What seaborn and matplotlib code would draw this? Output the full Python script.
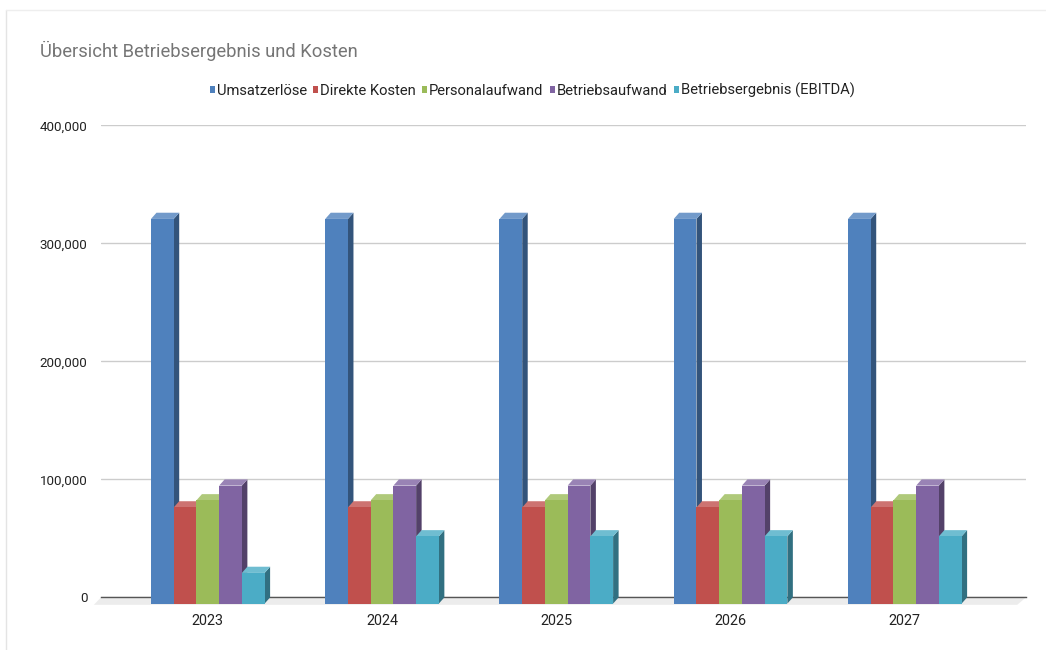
import matplotlib
matplotlib.use("Agg")
import matplotlib.pyplot as plt
import matplotlib.colors as mc
from matplotlib.patches import Polygon, Rectangle
from matplotlib.lines import Line2D
import numpy as np
import pandas as pd
import seaborn as sns

years = ["2023", "2024", "2025", "2026", "2027"]
umsatz = [326000, 326000, 326000, 326000, 326000]
direkt = [81500, 81500, 81500, 81500, 81500]
personal = [87500, 87500, 87500, 87500, 87500]
betrieb = [100000, 100000, 100000, 100000, 100000]
ebitda = [26000, 57000, 57000, 57000, 57000]
names = ["Umsatzerlöse", "Direkte Kosten", "Personalaufwand", "Betriebsaufwand", "Betriebsergebnis (EBITDA)"]
colors = ["#4f81bd", "#c0504d", "#9bbb59", "#8064a2", "#4bacc6"]
yticks = [0, 100000, 200000, 300000, 400000]

W, H = 1046, 650
sns.set_theme(style="white")
plt.rcParams["font.family"] = ["Roboto", "DejaVu Sans"]

df = pd.DataFrame({"Jahr": years * 5,
                   "Serie": [n for n in names for _ in years],
                   "Wert": umsatz + direkt + personal + betrieb + ebitda})

fig = plt.figure(figsize=(W / 100, H / 100), dpi=100, facecolor="white")
ax = fig.add_axes([101 / W, (H - 597.4) / H, 925 / W, 472 / H])
sns.barplot(data=df, x="Jahr", y="Wert", hue="Serie", hue_order=names, palette=colors,
            width=0.652, gap=0, saturation=1, dodge=True, ax=ax, errorbar=None, zorder=3)

pitch = 174.25
ax.set_xlim((101 - 213.3) / pitch, (1026 - 213.3) / pitch)
ax.set_ylim(0, 400000)
dx = 5.5 / pitch
dy = 6.2 * 400000 / 472

for i, cont in enumerate(ax.containers):
    col = np.array(mc.to_rgb(colors[i]))
    side = tuple(col * 0.65)
    top = tuple(col + (1 - col) * 0.2)
    for bar in cont:
        x0, w, h = bar.get_x(), bar.get_width(), bar.get_height()
        bar.set_xy((x0 - dx, -dy))
        bar.set_height(h)
        bar.set_linewidth(0)
        bar.set_clip_on(False)
        bar.set_zorder(4 + 2 * i)
        xl, xr = x0 - dx, x0 - dx + w
        ft = h - dy
        ax.add_patch(Polygon([(xr, -dy), (xr + dx, 0), (xr + dx, h), (xr, ft)], closed=True,
                             fc=side, lw=0, zorder=3 + 2 * i, clip_on=False))
        ax.add_patch(Polygon([(xl, ft), (xl + dx, h), (xr + dx, h), (xr, ft)], closed=True,
                             fc=top, lw=0, zorder=3 + 2 * i, clip_on=False))

# floor of the 3D plot
xa, xb = ax.get_xlim()
ax.add_patch(Polygon([(xa, 0), (xb, 0), (xb - 1.6 * dx, -dy * 1.2), (xa - 1.3 * dx, -dy * 1.2)], closed=True,
                     fc="#ececec", lw=0, zorder=1, clip_on=False))

ax.set_yticks(yticks)
ax.set_yticklabels([f"{v:,}" for v in yticks], fontsize=9.6, color="#222222")
ax.set_xticks(np.arange(len(years)) - dx)
ax.set_xticklabels(years, fontsize=10.4, color="#222222")
ax.tick_params(axis="both", length=0)
ax.tick_params(axis="y", pad=9.8)
ax.tick_params(axis="x", pad=12.2)
ax.set_xlabel("")
ax.set_ylabel("")
ax.yaxis.grid(True, color="#cccccc", lw=1)
ax.xaxis.grid(False)
ax.set_axisbelow(True)
for s in ["top", "left", "right"]:
    ax.spines[s].set_visible(False)
ax.spines["bottom"].set_color("#555555")
ax.spines["bottom"].set_linewidth(1)
ax.spines["bottom"].set_zorder(2)

# legend
handles = [Rectangle((0, 0), 1, 1, fc=c, lw=0) for c in colors]
if ax.get_legend():
    ax.get_legend().remove()
fig.legend(handles, names, ncols=5, loc="center", bbox_to_anchor=(532 / W, 1 - 90.5 / H),
           frameon=False, fontsize=10.6, handlelength=0.36, handleheight=0.36,
           handletextpad=0.12, columnspacing=0.42, labelcolor="#222222", borderpad=0)

fig.text(40 / W, 1 - 51 / H, "Übersicht Betriebsergebnis und Kosten", fontsize=13.2,
         color="#757575", ha="left", va="center")

# card outline
fig.add_artist(Line2D([6 / W, 6 / W], [0, 1 - 10 / H], color="#e4e4e4", lw=1))
fig.add_artist(Line2D([6 / W, 1], [1 - 10 / H, 1 - 10 / H], color="#eeeeee", lw=1))

fig.savefig("out.png", dpi=100)
